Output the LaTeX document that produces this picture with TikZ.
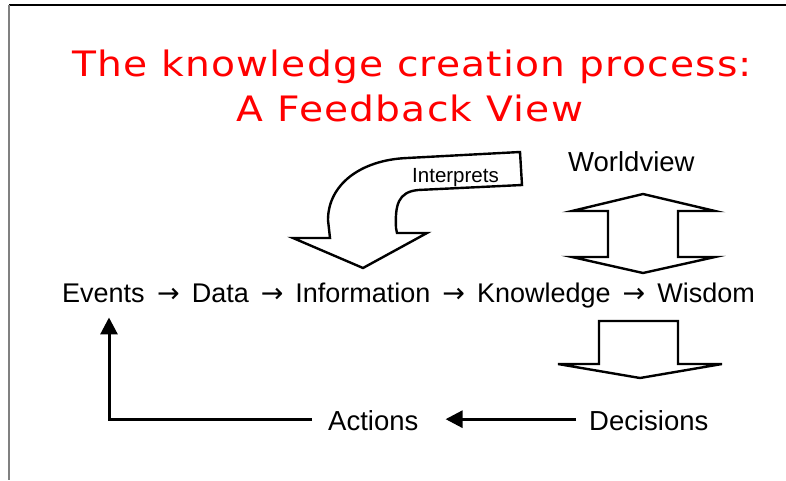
\documentclass[tikz,border=0pt]{standalone}
\usepackage{fontspec}
\setmainfont{Liberation Sans}
\newfontfamily\titlefont{DejaVu Sans}[FakeStretch=1.12, LetterSpace=3.5]
\newfontfamily\arrowfont{DejaVu Sans}
\usetikzlibrary{arrows.meta}
\definecolor{titlered}{HTML}{FF0000}
\newcommand{\chainarrow}{\hspace{12pt}{\arrowfont →}\hspace{12pt}}
\tikzset{
  txt/.style={inner sep=0pt, anchor=base west, font=\fontsize{27.5}{30}\selectfont},
  chaintxt/.style={inner sep=0pt, anchor=base west, font=\fontsize{27}{30}\selectfont},
  ttl/.style={inner sep=0pt, anchor=base, text=titlered, font=\titlefont\fontsize{35}{40}\selectfont},
  bigarrow/.style={draw=black, fill=white, line width=2.4pt, line join=miter},
  fb/.style={draw=black, line width=3pt, -{Triangle[length=17pt,width=17pt]}},
}
\begin{document}
\begin{tikzpicture}[x=1pt,y=-1pt]
\useasboundingbox (0,0) rectangle (786,480);
% slide frame
\draw[black, line width=1.5pt] (9,5) -- (786,5);
\draw[gray, line width=2pt] (9,5) -- (9,480);
% title
\node[ttl] (title1) at (412,76) {The knowledge creation process:};
\node[ttl] (title2) at (410,121) {A Feedback View};
% main chain
\node[chaintxt] (events) at (62,302) {Events};
\node[chaintxt] (chain) at (events.base east) {\chainarrow Data\chainarrow Information\chainarrow Knowledge\chainarrow Wisdom};
% worldview double arrow
\node[txt] (worldview) at (568,171) {Worldview};
\path[bigarrow] (643,194) -- (715,211) -- (678,211) -- (678,257) -- (715,257) -- (643,273)
  -- (572,257) -- (608,257) -- (608,211) -- (572,211) -- cycle;
% interprets curved arrow
\path[bigarrow] (330,238) -- (328,220) .. controls (328,185) and (360,160) .. (407,158)
  -- (520,152) -- (522,185) -- (418,190) .. controls (398,192) and (395,205) .. (396,228)
  -- (397,233) -- (427,233) -- (363,268) -- (293,238) -- cycle;
\node[inner sep=0pt, anchor=base west, font=\fontsize{20.5}{24}\selectfont] (interprets) at (412,182) {Interprets};
% down arrow to decisions
\path[bigarrow] (599,321) -- (678,321) -- (678,364) -- (722,364) -- (640,378) -- (558,364)
  -- (599,364) -- cycle;
% bottom row
\node[txt] (actions) at (328,430) {Actions};
\node[txt] (decisions) at (589,430) {Decisions};
\draw[fb] ([xshift=-13pt,yshift=1pt]decisions.west) -- ([xshift=27pt,yshift=1pt]actions.east);
\draw[fb] ([xshift=-16pt,yshift=1pt]actions.west) -| ([xshift=47pt,yshift=-15pt]events.south west);
\end{tikzpicture}
\end{document}
